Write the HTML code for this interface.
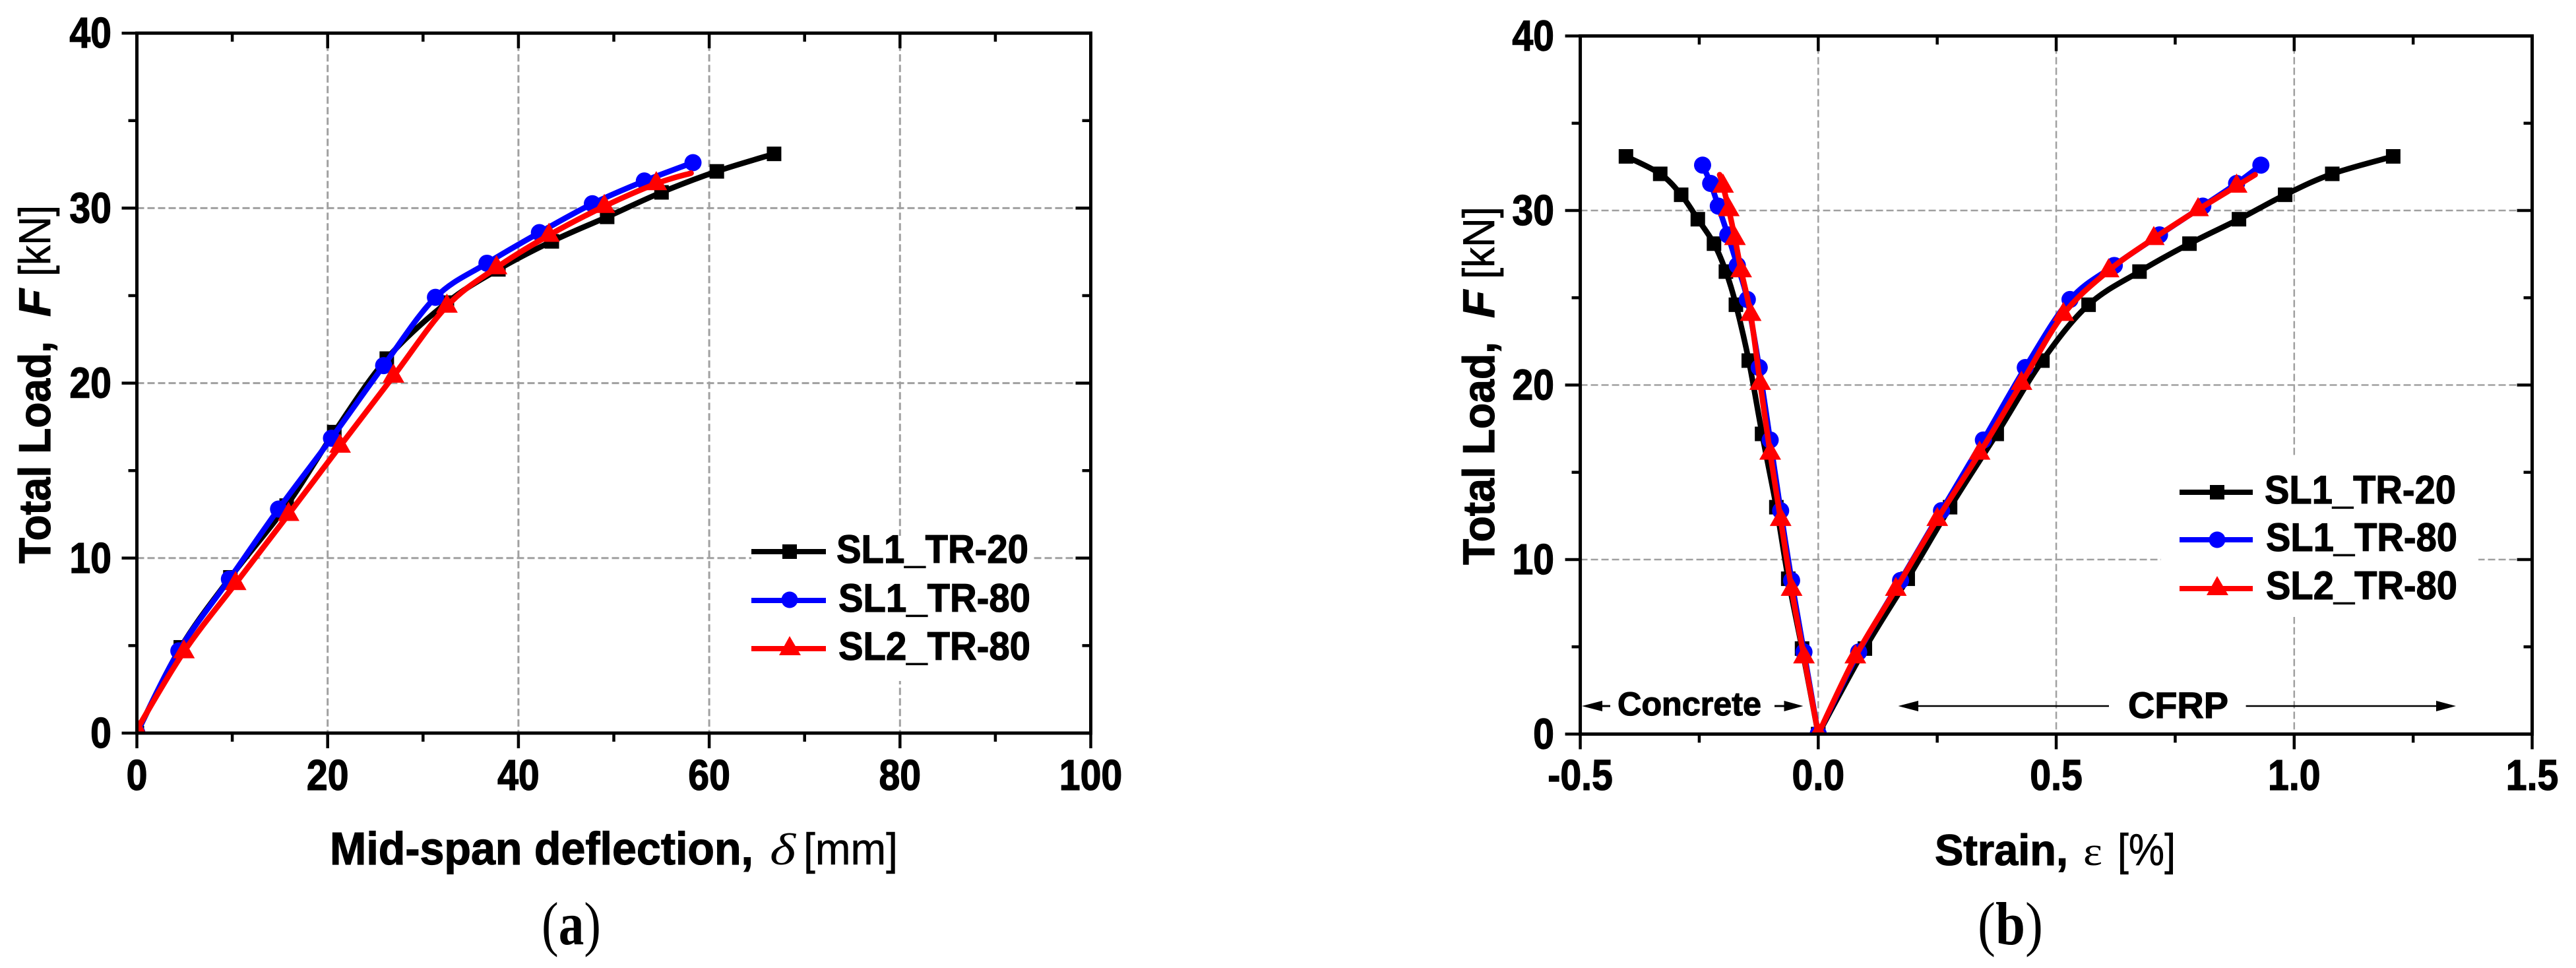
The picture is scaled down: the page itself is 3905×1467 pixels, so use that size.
<!DOCTYPE html>
<html lang="en">
<head>
<meta charset="utf-8">
<title>Total load versus deflection and strain</title>
<style>
html,body{margin:0;padding:0;background:#fff;}
svg{display:block;}
text{font-family:"Liberation Sans",sans-serif;fill:#000;}
.b{font-weight:bold;stroke:#000;stroke-width:1.2px;}
.m{stroke:#000;stroke-width:0.6px;}
.serif{font-family:"Liberation Serif",serif;}
</style>
</head>
<body>
<svg id="figure" xmlns="http://www.w3.org/2000/svg" width="3905" height="1467" viewBox="0 0 3905 1467">
  <defs>
    <clipPath id="clipA"><rect x="207.5" y="50" width="1446" height="1061"/></clipPath>
    <clipPath id="clipB"><rect x="2395.5" y="54" width="1443.5" height="1058.5"/></clipPath>
  </defs>
  <rect x="0" y="0" width="3905" height="1467" fill="#fff"/>

  <!-- Panel a -->
  <g>
    <g id="gridA"></g>
    <rect x="1139" y="812" width="427" height="220" fill="#fff"/>
    <g id="seriesA" clip-path="url(#clipA)"></g>
    <g id="axesA"></g>
    <g id="labelsA"></g>

    <g transform="translate(76,854) rotate(-90)">
      <text class="b" x="0" y="0" font-size="68" textLength="337" lengthAdjust="spacingAndGlyphs">Total Load,</text>
      <text class="b" x="374" y="0" font-size="68" font-style="italic" textLength="42" lengthAdjust="spacingAndGlyphs">F</text>
      <text class="m" x="435" y="0" font-size="68" textLength="108" lengthAdjust="spacingAndGlyphs">[kN]</text>
    </g>
    <g>
      <text class="b" x="500" y="1310" font-size="70" textLength="642" lengthAdjust="spacingAndGlyphs">Mid-span deflection,</text>
      <text class="serif" x="1167" y="1310" font-size="68" font-style="italic" textLength="39" lengthAdjust="spacingAndGlyphs">δ</text>
      <text class="m" x="1218" y="1310" font-size="68" textLength="143" lengthAdjust="spacingAndGlyphs">[mm]</text>
    </g>
    <text class="serif" x="821" y="1431" font-size="92" textLength="90" lengthAdjust="spacingAndGlyphs">(<tspan font-weight="bold">a</tspan>)</text>

    <g>
      <g>
        <line x1="1139" x2="1252" y1="836" y2="836" stroke="#000" stroke-width="8"/>
        <rect x="1186" y="825" width="22" height="22" fill="#000"/>
        <text class="b" x="1268" y="853" font-size="60" textLength="291" lengthAdjust="spacingAndGlyphs">SL1_TR-20</text>
      </g>
      <g>
        <line x1="1139" x2="1252" y1="910" y2="910" stroke="#0000ff" stroke-width="8"/>
        <circle cx="1197" cy="909" r="12.5" fill="#0000ff"/>
        <text class="b" x="1271" y="927" font-size="60" textLength="291" lengthAdjust="spacingAndGlyphs">SL1_TR-80</text>
      </g>
      <g>
        <line x1="1139" x2="1252" y1="983" y2="983" stroke="#ff0000" stroke-width="8"/>
        <polygon points="1197,964 1214,993 1181,993" fill="#ff0000"/>
        <text class="b" x="1271" y="1000" font-size="60" textLength="291" lengthAdjust="spacingAndGlyphs">SL2_TR-80</text>
      </g>
    </g>
  </g>

  <!-- Panel b -->
  <g>
    <g id="gridB"></g>
    <rect x="3276" y="694" width="481" height="241" fill="#fff"/>

    <g>
      <line x1="2412" x2="2441" y1="1070" y2="1070" stroke="#000" stroke-width="3"/>
      <polygon points="2398,1070 2429,1062 2429,1078" fill="#000"/>
      <text class="b" x="2452" y="1084" font-size="50" textLength="218" lengthAdjust="spacingAndGlyphs">Concrete</text>
      <line x1="2690" x2="2720" y1="1070" y2="1070" stroke="#000" stroke-width="3"/>
      <polygon points="2733.5,1070 2704.5,1062 2704.5,1078" fill="#000"/>
    </g>
    <g>
      <line x1="2890" x2="3197" y1="1070" y2="1070" stroke="#000" stroke-width="2.5"/>
      <polygon points="2877.5,1070 2908,1062 2908,1078" fill="#000"/>
      <text class="b" x="3226" y="1088" font-size="56" textLength="152" lengthAdjust="spacingAndGlyphs">CFRP</text>
      <line x1="3404.6" x2="3710" y1="1070" y2="1070" stroke="#000" stroke-width="2.5"/>
      <polygon points="3723,1070 3693,1062 3693,1078" fill="#000"/>
    </g>

    <g id="seriesB" clip-path="url(#clipB)"></g>
    <g id="axesB"></g>
    <g id="labelsB"></g>

    <g transform="translate(2265,856) rotate(-90)">
      <text class="b" x="0" y="0" font-size="68" textLength="338" lengthAdjust="spacingAndGlyphs">Total Load,</text>
      <text class="b" x="374" y="0" font-size="68" font-style="italic" textLength="42" lengthAdjust="spacingAndGlyphs">F</text>
      <text class="m" x="433" y="0" font-size="68" textLength="110" lengthAdjust="spacingAndGlyphs">[kN]</text>
    </g>
    <g>
      <text class="b" x="2933" y="1311" font-size="66" textLength="202" lengthAdjust="spacingAndGlyphs">Strain,</text>
      <text class="serif" x="3158" y="1311" font-size="62" textLength="29" lengthAdjust="spacingAndGlyphs">ε</text>
      <text class="m" x="3210" y="1311" font-size="68" textLength="88" lengthAdjust="spacingAndGlyphs">[%]</text>
    </g>
    <text class="serif" x="2998" y="1431" font-size="92" textLength="99" lengthAdjust="spacingAndGlyphs">(<tspan font-weight="bold">b</tspan>)</text>

    <g>
      <g>
        <line x1="3304" x2="3415" y1="746" y2="746" stroke="#000" stroke-width="8"/>
        <rect x="3350" y="735" width="22" height="22" fill="#000"/>
        <text class="b" x="3433" y="763" font-size="60" textLength="290" lengthAdjust="spacingAndGlyphs">SL1_TR-20</text>
      </g>
      <g>
        <line x1="3304" x2="3415" y1="818" y2="818" stroke="#0000ff" stroke-width="8"/>
        <circle cx="3361" cy="818" r="12.5" fill="#0000ff"/>
        <text class="b" x="3435" y="835" font-size="60" textLength="290" lengthAdjust="spacingAndGlyphs">SL1_TR-80</text>
      </g>
      <g>
        <line x1="3304" x2="3415" y1="892" y2="892" stroke="#ff0000" stroke-width="8"/>
        <polygon points="3361,873 3378,902 3345,902" fill="#ff0000"/>
        <text class="b" x="3435" y="908" font-size="60" textLength="290" lengthAdjust="spacingAndGlyphs">SL2_TR-80</text>
      </g>
    </g>
  </g>
</svg>

<script>
// Tick labels
const yTickLabels = ["0", "10", "20", "30", "40"];
const yTickValues = [0, 10, 20, 30, 40];
const yMinorValues = [5, 15, 25, 35];
const xTickLabelsA = ["0", "20", "40", "60", "80", "100"];
const xTickValuesA = [0, 20, 40, 60, 80, 100];
const xMinorValuesA = [10, 30, 50, 70, 90];
const xTickLabelsB = ["-0.5", "0.0", "0.5", "1.0", "1.5"];
const xTickValuesB = [-0.5, 0, 0.5, 1.0, 1.5];
const xMinorValuesB = [-0.25, 0.25, 0.75, 1.25];

// Loads (kN)
const loadBlack = [0, 4.9, 8.9, 13, 17.2, 21.4, 24.6, 26.5, 28.1, 29.5, 30.9, 32.1, 33.1];
const loadBlue = [0, 4.7, 8.8, 12.8, 16.85, 21, 24.9, 26.85, 28.6, 30.25, 31.55, 32.6];
const loadRedA = [0.2, 4.65, 8.55, 12.5, 16.4, 20.4, 24.4, 26.6, 28.45, 30.1, 31.4, 32.0];
const loadRedB = [0, 4.43, 8.3, 12.3, 16.1, 20.1, 24.05, 26.55, 28.4, 30.05, 31.4, 32.05];

// Panel a: mid-span deflection (mm)
const deflBlack = [0, 4.6, 9.8, 15.7, 20.7, 26.2, 32.5, 37.9, 43.5, 49.3, 55, 60.8, 66.8];
const deflBlue = [0, 4.4, 9.7, 14.85, 20.4, 25.87, 31.3, 36.7, 42.2, 47.75, 53.2, 58.3];
const deflRed = [0, 4.93, 10.35, 15.9, 21.3, 26.9, 32.5, 37.7, 43.2, 49, 54.45, 58.1];

// Panel b: strain (%), concrete branch
const concreteBlack = [0, -0.034, -0.063, -0.088, -0.118, -0.146, -0.173, -0.194, -0.219, -0.253, -0.288, -0.332, -0.404];
const concreteBlue = [0, -0.03, -0.056, -0.079, -0.101, -0.124, -0.149, -0.17, -0.19, -0.21, -0.226, -0.243];
const concreteRed = [0, -0.03, -0.056, -0.079, -0.101, -0.122, -0.142, -0.162, -0.175, -0.188, -0.2, -0.207];

// Panel b: strain (%), CFRP branch
const cfrpBlack = [0, 0.098, 0.188, 0.277, 0.375, 0.471, 0.568, 0.675, 0.78, 0.884, 0.981, 1.08, 1.208];
const cfrpBlue = [0, 0.085, 0.173, 0.259, 0.347, 0.435, 0.529, 0.622, 0.717, 0.808, 0.879, 0.93];
const cfrpRed = [0, 0.078, 0.163, 0.25, 0.339, 0.427, 0.515, 0.61, 0.705, 0.798, 0.879, 0.918];

const NS = "http://www.w3.org/2000/svg";

// Axis functions
function xA(v) { return 207.5 + 14.46 * v; }
function yA(v) { return 1111 - 26.52 * v; }
function xB(v) { return 2756.3 + 721.5 * v; }
function yB(v) { return 1112.5 - 26.45 * v; }

function make(tag, attrs, parent, name) {
  const el = document.createElementNS(NS, tag);
  for (const k in attrs) { el.setAttribute(k, attrs[k]); }
  
  
  parent.appendChild(el);
  return el;
}

function drawGrid(parent, xf, yf, xVals, yVals, width) {
  const top = yf(40), bottom = yf(0), left = xf(xVals[0]), right = xf(xVals[xVals.length - 1]);
  xVals.slice(1, -1).forEach(function (v) {
    make('line', { x1: xf(v), x2: xf(v), y1: top, y2: bottom, stroke: '#a0a0a0', 'stroke-width': width, 'stroke-dasharray': '11 5' }, parent, 'vertical-gridline');
  });
  yVals.slice(1, -1).forEach(function (v) {
    make('line', { x1: left, x2: right, y1: yf(v), y2: yf(v), stroke: '#a0a0a0', 'stroke-width': width, 'stroke-dasharray': '11 5' }, parent, 'horizontal-gridline');
  });
}

function drawAxes(parent, xf, yf, xMajor, xMinor) {
  const top = yf(40), bottom = yf(0), left = xf(xMajor[0]), right = xf(xMajor[xMajor.length - 1]);
  const W = 5, T = 4.5;
  function tick(x1, y1, x2, y2, name) {
    make('line', { x1: x1, y1: y1, x2: x2, y2: y2, stroke: '#000', 'stroke-width': T }, parent, name);
  }
  xMajor.forEach(function (v) {
    tick(xf(v), bottom, xf(v), bottom + 23, 'x-major-tick');
    if (v !== xMajor[0] && v !== xMajor[xMajor.length - 1]) {
      tick(xf(v), top, xf(v), top + 23, 'top-major-tick');
    }
  });
  xMinor.forEach(function (v) {
    tick(xf(v), bottom, xf(v), bottom + 13, 'x-minor-tick');
    tick(xf(v), top, xf(v), top + 13, 'top-minor-tick');
  });
  yTickValues.forEach(function (v) {
    tick(left - 23, yf(v), left, yf(v), 'y-major-tick');
    if (v !== 0 && v !== 40) {
      tick(right - 23, yf(v), right, yf(v), 'right-major-tick');
    }
  });
  yMinorValues.forEach(function (v) {
    tick(left - 13, yf(v), left, yf(v), 'y-minor-tick');
    tick(right - 13, yf(v), right, yf(v), 'right-minor-tick');
  });
  make('rect', { x: left, y: top, width: right - left, height: bottom - top, fill: 'none', stroke: '#000', 'stroke-width': W }, parent, 'axis-frame');
}

function drawTickLabels(parent, xf, yf, xVals, xLabels, yRight) {
  function label(tx, ty, str, anchor, name) {
    const t = make('text', { transform: 'translate(' + tx + ',' + ty + ') scale(0.88,1)', 'text-anchor': anchor, 'font-size': 65, 'font-weight': 'bold', stroke: '#000', 'stroke-width': 1.4 }, parent, name);
    t.textContent = str;
  }
  xVals.forEach(function (v, i) {
    label(xf(v), 1197, xLabels[i], 'middle', 'x-tick-label');
  });
  yTickValues.forEach(function (v, i) {
    label(yRight, yf(v) + 22, yTickLabels[i], 'end', 'y-tick-label');
  });
}

function drawMarker(parent, kind, px, py, color, name) {
  if (kind === 'square') {
    make('rect', { x: px - 11, y: py - 11, width: 22, height: 22, fill: color }, parent, name);
  } else if (kind === 'circle') {
    make('circle', { cx: px, cy: py, r: 13, fill: color }, parent, name);
  } else {
    const pts = px + ',' + (py - 19) + ' ' + (px + 16.5) + ',' + (py + 10) + ' ' + (px - 16.5) + ',' + (py + 10);
    make('polygon', { points: pts, fill: color }, parent, name);
  }
}

// Smooth curve through the points (Catmull-Rom), like the source plot's spline connector
function splinePath(px, py) {
  let d = 'M' + px[0].toFixed(1) + ' ' + py[0].toFixed(1);
  for (let i = 0; i < px.length - 1; i++) {
    const i0 = Math.max(i - 1, 0), i3 = Math.min(i + 2, px.length - 1);
    const c1x = px[i] + (px[i + 1] - px[i0]) / 6, c1y = py[i] + (py[i + 1] - py[i0]) / 6;
    const c2x = px[i + 1] - (px[i3] - px[i]) / 6, c2y = py[i + 1] - (py[i3] - py[i]) / 6;
    d += 'C' + c1x.toFixed(1) + ' ' + c1y.toFixed(1) + ' ' + c2x.toFixed(1) + ' ' + c2y.toFixed(1) + ' ' + px[i + 1].toFixed(1) + ' ' + py[i + 1].toFixed(1);
  }
  return d;
}

function drawSeries(parent, xf, yf, xs, ys, color, kind, name, skipLastMarker) {
  const g = make('g', {}, parent, name);
  const d = splinePath(xs.map(xf), ys.map(yf));
  make('path', { d: d, fill: 'none', stroke: color, 'stroke-width': 8.5, 'stroke-linejoin': 'round', 'stroke-linecap': 'round' }, g, name + '-line');
  const count = skipLastMarker ? xs.length - 1 : xs.length;
  for (let i = 0; i < count; i++) {
    drawMarker(g, kind, xf(xs[i]), yf(ys[i]), color, name + '-marker');
  }
}

const gridA = document.getElementById('gridA');
const gridB = document.getElementById('gridB');
const seriesA = document.getElementById('seriesA');
const seriesB = document.getElementById('seriesB');
const axesA = document.getElementById('axesA');
const axesB = document.getElementById('axesB');
const labelsA = document.getElementById('labelsA');
const labelsB = document.getElementById('labelsB');

drawGrid(gridA, xA, yA, xTickValuesA, yTickValues, 3);
drawGrid(gridB, xB, yB, xTickValuesB, yTickValues, 2.5);

drawSeries(seriesA, xA, yA, deflBlack, loadBlack, '#000000', 'square', 'series-sl1-tr-20', false);
drawSeries(seriesA, xA, yA, deflBlue, loadBlue, '#0000ff', 'circle', 'series-sl1-tr-80', false);
drawSeries(seriesA, xA, yA, deflRed, loadRedA, '#ff0000', 'triangle', 'series-sl2-tr-80', true);

drawSeries(seriesB, xB, yB, concreteBlack, loadBlack, '#000000', 'square', 'series-sl1-tr-20-concrete', false);
drawSeries(seriesB, xB, yB, cfrpBlack, loadBlack, '#000000', 'square', 'series-sl1-tr-20-cfrp', false);
drawSeries(seriesB, xB, yB, concreteBlue, loadBlue, '#0000ff', 'circle', 'series-sl1-tr-80-concrete', false);
drawSeries(seriesB, xB, yB, cfrpBlue, loadBlue, '#0000ff', 'circle', 'series-sl1-tr-80-cfrp', false);
drawSeries(seriesB, xB, yB, concreteRed, loadRedB, '#ff0000', 'triangle', 'series-sl2-tr-80-concrete', true);
drawSeries(seriesB, xB, yB, cfrpRed, loadRedB, '#ff0000', 'triangle', 'series-sl2-tr-80-cfrp', true);

drawAxes(axesA, xA, yA, xTickValuesA, xMinorValuesA);
drawAxes(axesB, xB, yB, xTickValuesB, xMinorValuesB);

drawTickLabels(labelsA, xA, yA, xTickValuesA, xTickLabelsA, 169);
drawTickLabels(labelsB, xB, yB, xTickValuesB, xTickLabelsB, 2356);
</script>
</body>
</html>
